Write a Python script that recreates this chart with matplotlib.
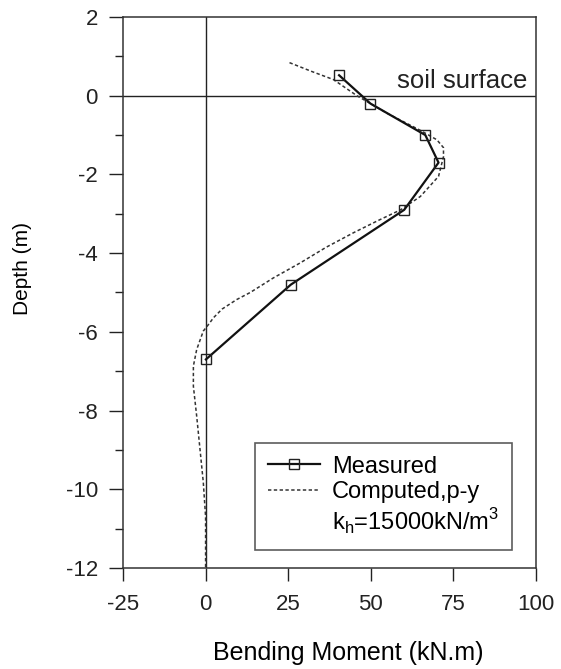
import numpy as np
import matplotlib.pyplot as plt
from matplotlib.ticker import MultipleLocator
from matplotlib.lines import Line2D

plt.rcParams['font.family'] = ['Liberation Sans', 'DejaVu Sans']
plt.rcParams['axes.unicode_minus'] = False

# measured bending moment (kN.m) vs depth (m)
meas_moment = [40.4, 49.9, 66.5, 70.5, 60.1, 25.8, 0.1]
meas_depth = [0.52, -0.2, -1.0, -1.7, -2.9, -4.8, -6.7]

# computed p-y curve
comp_moment = [25.4, 32.0, 38.7, 45.8, 55.0, 65.0, 70.0, 72.0, 72.0, 70.5, 65.0,
               59.0, 52.0, 44.8, 36.5, 28.6, 20.5, 13.5, 9.4, 5.0, 2.4, 1.0,
               -0.7, -2.7, -3.7, -3.7, -2.7, -1.7, -0.7, 0.0, 0.0]
comp_depth = [0.84, 0.62, 0.41, 0.0, -0.45, -0.88, -1.12, -1.32, -1.55, -2.05, -2.56,
              -2.9, -3.18, -3.48, -3.85, -4.25, -4.63, -5.0, -5.18, -5.42, -5.64, -5.8,
              -5.98, -6.45, -6.87, -7.38, -8.14, -8.98, -9.82, -10.7, -12.0]

fig = plt.figure(figsize=(5.61, 6.69), dpi=100)
ax = fig.add_axes([123 / 561, 1 - 568 / 669, 413 / 561, 551 / 669])

ax.axhline(0, color='#222222', lw=1.0, zorder=1)
ax.axvline(0, color='#222222', lw=1.0, zorder=1)

ax.plot(comp_moment, comp_depth, ls=(0, (2.2, 1.6)), color='#333333', lw=1.1)
ax.plot(meas_moment, meas_depth, '-', color='#111111', lw=1.6, marker='s',
        markersize=7, markerfacecolor='none', markeredgecolor='#222222',
        markeredgewidth=1.0)

ax.text(97.3, 0.2, 'soil surface', ha='right', va='baseline', fontsize=18.5,
        color='#222222')

ax.set_xlim(-25, 100)
ax.set_ylim(-12, 2)
ax.set_xticks([-25, 0, 25, 50, 75, 100])
ax.set_yticks(range(-12, 3, 2))
ax.yaxis.set_minor_locator(MultipleLocator(1))
ax.tick_params(axis='both', which='major', direction='out', length=10, width=1.0,
               labelsize=16, colors='#222222')
ax.tick_params(axis='y', which='major', pad=8)
ax.tick_params(axis='y', which='minor', direction='out', length=6, width=1.0,
               colors='#222222')
ax.tick_params(axis='x', which='major', length=9, pad=10)
for s in ax.spines.values():
    s.set_linewidth(1.1)
    s.set_color('#333333')

ax.set_xlabel('Bending Moment (kN.m)', fontsize=18)
ax.xaxis.set_label_coords(0.545, -0.133)
ax.set_ylabel('Depth (m)', fontsize=15)
ax.yaxis.set_label_coords(-0.22, 0.543)

handles = [
    Line2D([], [], color='#111111', lw=1.6, marker='s', markersize=7,
           markerfacecolor='none', markeredgecolor='#222222'),
    Line2D([], [], color='#333333', lw=1.1, ls=(0, (2.2, 1.6))),
    Line2D([], [], color='none'),
]
labels = ['Measured', 'Computed,p-y', 'k$_\\mathregular{h}$=15000kN/m$^\\mathregular{3}$']
leg = ax.legend(handles, labels, loc='lower right', bbox_to_anchor=(0.942, 0.033),
                fontsize=17, frameon=True, fancybox=False, edgecolor='#333333',
                handlelength=2.2, handletextpad=0.5, labelspacing=0.15,
                borderpad=0.55, borderaxespad=0)
leg.get_frame().set_linewidth(1.2)

fig.savefig('out.png', dpi=100)
